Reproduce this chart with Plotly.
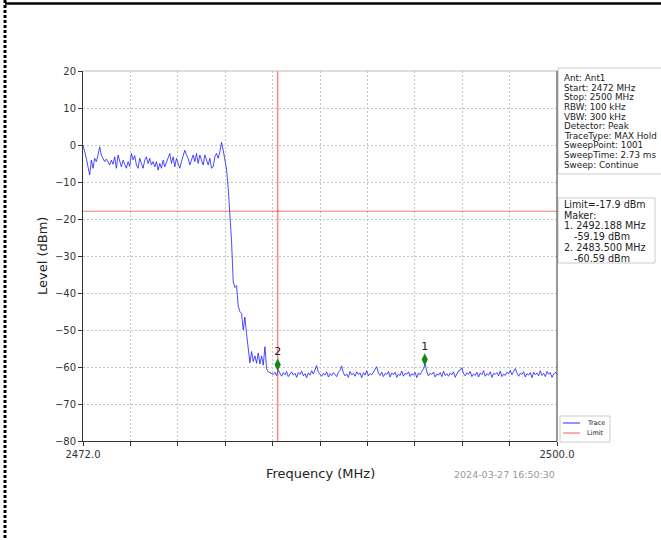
import numpy as np
import plotly.graph_objects as go

# ---------------- data ----------------
f_start, f_stop = 2472.0, 2500.0

level_flat = [
    0.0, -1.5, -3.6, -5.9, -8.1, -4.1, -6.3, -3.6, -4.5, -2.7,
    -0.5, -2.8, -3.6, -4.5, -3.8, -4.5, -5.4, -4.1, -5.2, -3.2,
    -6.3, -2.7, -4.1, -5.9, -4.1, -5.0, -6.3, -4.5, -5.8, -2.3,
    -4.0, -2.9, -5.4, -6.3, -3.6, -5.0, -6.3, -4.1, -3.2, -5.0,
    -3.6, -5.4, -4.5, -5.9, -4.5, -6.8, -5.0, -6.3, -4.1, -5.9,
    -4.5, -3.2, -2.3, -5.0, -3.2, -5.9, -3.6, -5.0, -6.3, -4.5,
    -3.2, -1.4, -2.7, -3.6, -5.4, -4.1, -2.7, -4.5, -2.3, -5.0,
    -2.7, -4.1, -5.4, -2.7, -4.1, -5.4, -3.6, -6.3, -5.9, -3.2,
    -2.3, -3.6, -1.8, 0.7, -1.4, -3.6,
]
level_drop = [
    -6.5, -11.5, -18.0, -26.0, -37.0, -38.5, -38.0, -43.5, -45.0, -45.5,
    -50.0, -46.5, -51.0, -55.0, -58.9, -55.8, -58.5, -57.0, -59.0, -56.2,
    -59.2, -57.0, -59.5, -54.5, -60.5, -61.3, -61.5,
]
level_floor = [
    -61.6, -62.0, -61.4, -62.3, -60.8, -61.8, -62.5, -61.5, -62.1, -61.2,
    -62.6, -61.9, -61.3, -62.2, -61.7, -62.8, -61.5, -62.0, -61.1, -62.4,
    -61.8, -62.9, -61.6, -62.2, -61.0, -61.9, -60.8, -59.6, -61.4, -62.0,
    -62.5, -61.7, -62.2, -61.3, -62.7, -61.8, -62.3, -61.5, -62.0, -62.6,
    -61.4, -60.9, -59.7, -61.6, -62.4, -61.9, -62.8, -61.2, -62.1, -61.7,
    -62.5, -61.3, -62.0, -61.6, -62.9, -61.5, -62.2, -61.0, -62.4, -61.8,
    -62.1, -61.3, -60.6, -59.9, -61.7, -62.3, -61.4, -62.6, -61.8, -62.0,
    -61.2, -62.7, -61.6, -62.1, -61.4, -62.8, -61.9, -62.3, -61.1, -62.5,
    -61.7, -62.0, -61.3, -62.6, -61.8, -62.2, -61.5, -62.9, -61.6, -62.1,
    -61.2, -60.5, -59.2, -61.3, -62.4, -61.7, -62.0, -61.4, -62.7, -61.9,
    -62.2, -61.5, -62.6, -61.1, -62.3, -61.8, -62.5, -61.6, -62.1, -61.3,
    -62.8, -61.7, -61.0, -60.9, -60.2, -61.8, -62.4, -61.5, -62.0, -61.2,
    -62.6, -61.9, -62.3, -61.4, -62.7, -61.6, -62.1, -61.0, -62.5, -61.8,
    -62.2, -61.3, -62.8, -61.7, -62.0, -61.5, -62.4, -61.1, -62.6, -61.9,
    -62.3, -61.4, -61.8, -60.9, -62.1, -61.2, -60.4, -61.6, -62.5, -61.7,
    -62.0, -61.3, -62.7, -61.8, -62.2, -61.5, -62.9, -61.4, -62.1, -61.6,
    -62.4, -61.0, -62.3, -61.7, -62.6, -61.2, -62.0, -61.5, -62.8, -61.9,
    -61.4, -62.0,
]
levels = level_flat + level_drop + level_floor
freqs = np.linspace(f_start, f_stop, len(levels))

limit_level = -17.9
marker_ids = ["1", "2"]
marker_freqs = [2492.188, 2483.5]
marker_levels = [-59.19, -60.59]

y_tickvals = [-80, -70, -60, -50, -40, -30, -20, -10, 0, 10, 20]
y_ticktext = ["\u221280", "\u221270", "\u221260", "\u221250", "\u221240",
              "\u221230", "\u221220", "\u221210", "0", "10", "20"]
x_tickvals = [2472.0, 2474.8, 2477.6, 2480.4, 2483.2, 2486.0,
              2488.8, 2491.6, 2494.4, 2497.2, 2500.0]
x_ticktext = ["2472.0", "", "", "", "", "", "", "", "", "", "2500.0"]

info_lines = ["Ant: Ant1", "Start: 2472 MHz", "Stop: 2500 MHz", "RBW: 100 kHz",
              "VBW: 300 kHz", "Detector: Peak", "TraceType: MAX Hold",
              "SweepPoint: 1001", "SweepTime: 2.73 ms", "Sweep: Continue"]
limit_lines = ["Limit=-17.9 dBm", "Maker:", "1. 2492.188 MHz", "-59.19 dBm",
               "2. 2483.500 MHz", "-60.59 dBm"]
limit_indent = [False, False, False, True, False, True]
legend_names = ["Trace", "Limit"]
trace_color = "rgba(30,30,255,0.8)"
limit_color = "rgba(255,0,0,0.55)"
timestamp = "2024-03-27 16:50:30"

# ---------------- layout geometry (pixels) ----------------
W, H = 661, 540
L, R, T, B = 83, 557, 71, 441
marker_offset = 1.2  # display offset of marker symbols above the reading


def px(x):
    return (x - L) / (R - L)


def py(y):
    return (B - y) / (B - T)


fig = go.Figure()
fig.add_trace(go.Scatter(x=freqs, y=levels, mode="lines", name=legend_names[0],
                         showlegend=False,
                         line=dict(color=trace_color, width=1)))
fig.add_trace(go.Scatter(x=[f_start, f_stop], y=[limit_level, limit_level],
                         mode="lines", name=legend_names[1], showlegend=False,
                         line=dict(color=limit_color, width=1)))
fig.add_trace(go.Scatter(x=[marker_freqs[1], marker_freqs[1]], y=[-80, 20],
                         mode="lines", showlegend=False, hoverinfo="skip",
                         line=dict(color="rgba(255,0,0,0.45)", width=1.6)))
fig.add_trace(go.Scatter(x=marker_freqs,
                         y=[v + marker_offset for v in marker_levels],
                         mode="markers+text", text=marker_ids,
                         textposition="top center", showlegend=False,
                         textfont=dict(size=11, color="#222"),
                         marker=dict(symbol="diamond-tall", size=9,
                                     color="#118811")))

axis_common = dict(ticks="outside", ticklen=4, tickwidth=1, tickcolor="#333",
                   showline=True, linecolor="#333", linewidth=1,
                   showgrid=True, gridcolor="#c4c4c4", gridwidth=0.8,
                   griddash="2px,2px", zeroline=False,
                   tickfont=dict(size=10, color="#333"))

shapes = [
    # top spine (light) and right spine
    dict(type="line", xref="paper", yref="paper", x0=0, x1=1, y0=1, y1=1,
         line=dict(color="#bbbbbb", width=1)),
    dict(type="line", xref="paper", yref="paper", x0=1, x1=1, y0=0, y1=1,
         line=dict(color="#333", width=1)),
    # info boxes
    dict(type="rect", xref="paper", yref="paper", x0=px(558), x1=px(700),
         y0=py(174), y1=py(68), line=dict(color="#cccccc", width=1),
         fillcolor="white", layer="below"),
    dict(type="rect", xref="paper", yref="paper", x0=px(558), x1=px(655),
         y0=py(263), y1=py(198), line=dict(color="#cccccc", width=1),
         fillcolor="white", layer="below"),
    # legend box and samples
    dict(type="rect", xref="paper", yref="paper", x0=px(560), x1=px(610),
         y0=py(442), y1=py(416), line=dict(color="#cccccc", width=1),
         fillcolor="white", layer="below"),
    dict(type="line", xref="paper", yref="paper", x0=px(563), x1=px(580),
         y0=py(423), y1=py(423), line=dict(color=trace_color, width=1.2)),
    dict(type="line", xref="paper", yref="paper", x0=px(563), x1=px(580),
         y0=py(433), y1=py(433), line=dict(color=limit_color, width=1.2)),
    # page frame lines
    dict(type="line", xref="paper", yref="paper", x0=px(5), x1=px(665),
         y0=py(3.5), y1=py(3.5), line=dict(color="black", width=2.4)),
    dict(type="line", xref="paper", yref="paper", x0=px(5), x1=px(5),
         y0=py(0), y1=py(545), line=dict(color="black", width=3,
                                         dash="3px,2px")),
]

annotations = []
for i, t in enumerate(info_lines):
    annotations.append(dict(xref="paper", yref="paper", x=px(562),
                            y=py(78 + 9.63 * i), text=t, showarrow=False,
                            xanchor="left", yanchor="middle",
                            font=dict(size=8.8, color="#222")))
for i, t in enumerate(limit_lines):
    annotations.append(dict(xref="paper", yref="paper",
                            x=px(572 if limit_indent[i] else 562),
                            y=py(204.5 + 10.7 * i), text=t, showarrow=False,
                            xanchor="left", yanchor="middle",
                            font=dict(size=9.6, color="#222")))
for i, t in enumerate(legend_names):
    annotations.append(dict(xref="paper", yref="paper", x=px(585),
                            y=py(423 + 10 * i), text=t, showarrow=False,
                            xanchor="left", yanchor="middle",
                            font=dict(size=6.5, color="#222")))
annotations += [
    dict(xref="paper", yref="paper", x=0.5, y=py(473), text="Frequency (MHz)",
         showarrow=False, xanchor="center", yanchor="middle",
         font=dict(size=13, color="#222")),
    dict(xref="paper", yref="paper", x=px(42), y=0.5, text="Level (dBm)",
         showarrow=False, xanchor="center", yanchor="middle", textangle=-90,
         font=dict(size=13, color="#222")),
    dict(xref="paper", yref="paper", x=1.0, y=py(474), text=timestamp,
         showarrow=False, xanchor="right", yanchor="middle",
         font=dict(size=9.5, color="#999")),
]

fig.update_layout(
    width=W, height=H,
    margin=dict(l=L, r=W - R, t=T, b=H - B, pad=0),
    paper_bgcolor="white", plot_bgcolor="white",
    font=dict(family="DejaVu Sans", color="#222"),
    xaxis=dict(range=[f_start, f_stop], tickvals=x_tickvals,
               ticktext=x_ticktext, **axis_common),
    yaxis=dict(range=[-80, 20], tickvals=y_tickvals, ticktext=y_ticktext,
               **axis_common),
    showlegend=False,
    shapes=shapes,
    annotations=annotations,
)

fig.write_html("out.html",
               config={"displayModeBar": False},
               post_script="document.body.style.margin='0';"
                           "document.body.style.overflow='hidden';")
